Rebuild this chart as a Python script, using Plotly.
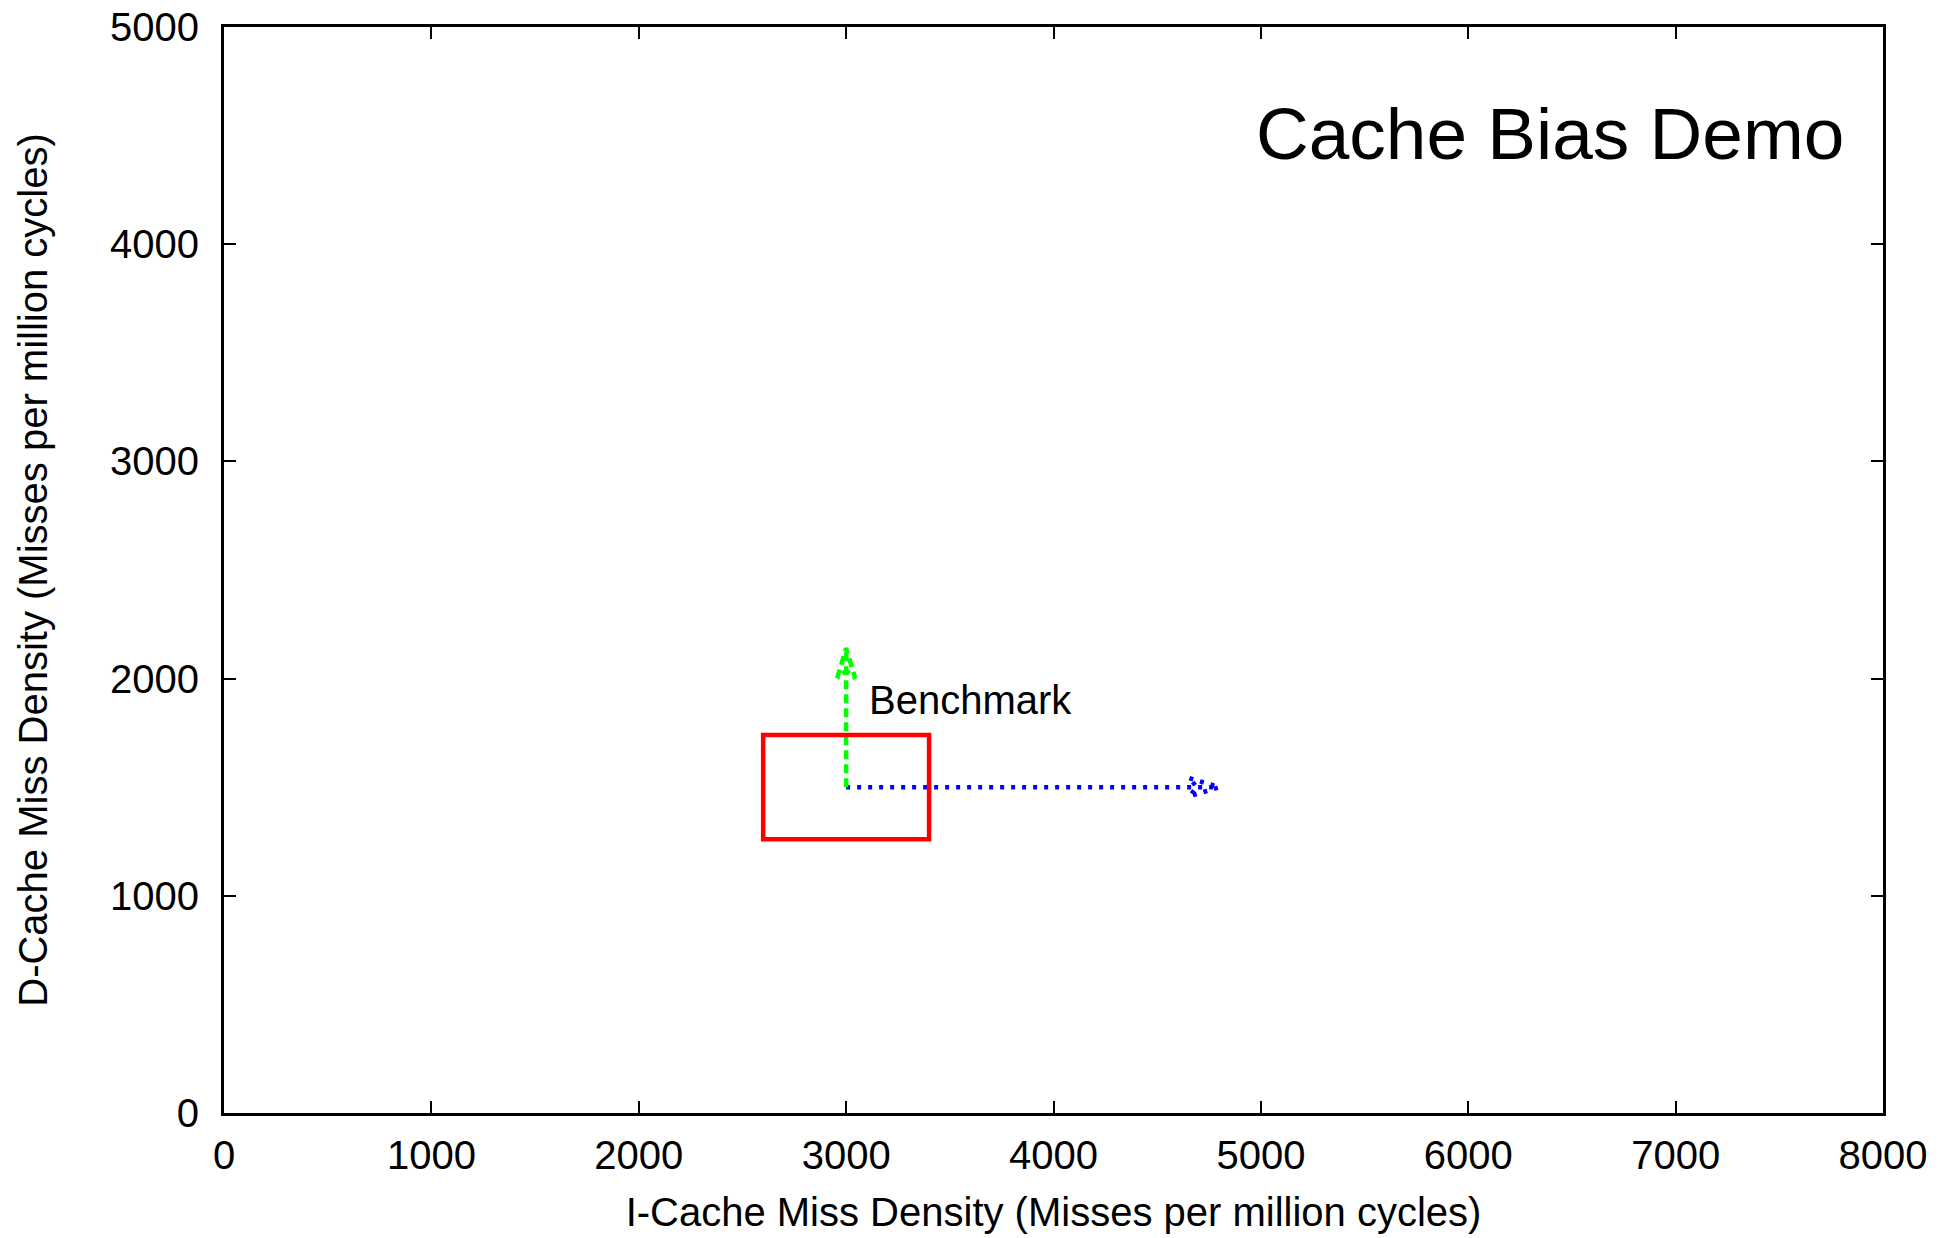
import plotly.graph_objects as go

# Axis ranges and ticks
x_range = [0, 8000]
y_range = [0, 5000]
x_ticks = [0, 1000, 2000, 3000, 4000, 5000, 6000, 7000, 8000]
y_ticks = [0, 1000, 2000, 3000, 4000, 5000]

# Benchmark region (rectangle corners)
region_x = [2600, 3400]
region_y = [1260, 1740]

# Benchmark point and bias vectors
bench_x = 3000
bench_y = 1500
icache_tip_x = 4800   # horizontal (I-cache) vector end
dcache_tip_y = 2140   # vertical (D-cache) vector end

label_text = "Benchmark"
label_pos = [3100, 1900]
title_text = "Cache Bias Demo"
title_pos = [7820, 4510]

W, H = 1956, 1238
M = dict(l=224, r=73, t=27, b=125)
px_x = (W - M["l"] - M["r"]) / (x_range[1] - x_range[0])
px_y = (H - M["t"] - M["b"]) / (y_range[1] - y_range[0])

BLUE = "#0000ff"
GREEN = "#00ff00"
RED = "#ff0000"

fig = go.Figure()


def head(tip_x, tip_y, dx, dy, length_px=30, half_px=9):
    """Arrowhead outline in data units, pointing along (dx, dy)."""
    ux, uy = dx * px_x, dy * px_y
    n = (ux ** 2 + uy ** 2) ** 0.5
    ux, uy = ux / n, uy / n
    bx, by = -ux * length_px, -uy * length_px
    px_, py_ = -uy * half_px, ux * half_px
    pts = [
        (tip_x + (bx + px_) / px_x, tip_y + (by + py_) / px_y),
        (tip_x, tip_y),
        (tip_x + (bx - px_) / px_x, tip_y + (by - py_) / px_y),
        (tip_x + (bx * 0.75) / px_x, tip_y + (by * 0.75) / px_y),
        (tip_x + (bx + px_) / px_x, tip_y + (by + py_) / px_y),
    ]
    return [p[0] for p in pts], [p[1] for p in pts]


# Horizontal I-cache vector (dotted blue)
fig.add_trace(go.Scatter(
    x=[bench_x, icache_tip_x], y=[bench_y, bench_y], mode="lines",
    line=dict(color=BLUE, width=4.5, dash="4px,7px"), hoverinfo="skip"))
hx, hy = head(icache_tip_x, bench_y, 1, 0)
fig.add_trace(go.Scatter(
    x=hx, y=hy, mode="lines",
    line=dict(color=BLUE, width=4.5, dash="4px,7px"), hoverinfo="skip"))

# Vertical D-cache vector (dashed green)
fig.add_trace(go.Scatter(
    x=[bench_x, bench_x], y=[bench_y, dcache_tip_y], mode="lines",
    line=dict(color=GREEN, width=4.5, dash="9px,5px"), hoverinfo="skip"))
hx, hy = head(bench_x, dcache_tip_y, 0, 1)
fig.add_trace(go.Scatter(
    x=hx, y=hy, mode="lines",
    line=dict(color=GREEN, width=4.5, dash="9px,5px"), hoverinfo="skip"))

# Benchmark region rectangle
fig.add_shape(type="rect", xref="x", yref="y",
              x0=region_x[0], x1=region_x[1], y0=region_y[0], y1=region_y[1],
              line=dict(color=RED, width=4.5), fillcolor="rgba(0,0,0,0)")

fig.add_annotation(x=label_pos[0], y=label_pos[1], text=label_text,
                   xref="x", yref="y", showarrow=False,
                   xanchor="left", yanchor="middle",
                   font=dict(family="Liberation Sans, Arial, sans-serif",
                             size=40, color="black"))

fig.add_annotation(x=title_pos[0], y=title_pos[1], text=title_text,
                   xref="x", yref="y", showarrow=False,
                   xanchor="right", yanchor="middle",
                   font=dict(family="Liberation Sans, Arial, sans-serif",
                             size=73, color="black"))

axis_common = dict(
    showgrid=False, zeroline=False, automargin=False,
    showline=True, linecolor="black", linewidth=3, mirror="ticks",
    ticks="inside", ticklen=12, tickwidth=2, tickcolor="black",
    tickfont=dict(family="Liberation Sans, Arial, sans-serif", size=40, color="black"),
)

fig.update_layout(
    width=W, height=H, margin=M,
    paper_bgcolor="white", plot_bgcolor="white",
    showlegend=False,
    font=dict(family="Liberation Sans, Arial, sans-serif", color="black"),
    xaxis=dict(range=x_range, tickvals=x_ticks, ticktext=[str(v) for v in x_ticks],
               ticklabelstandoff=5,
               title=dict(text="I-Cache Miss Density (Misses per million cycles)",
                          font=dict(size=40), standoff=22),
               **axis_common),
    yaxis=dict(range=y_range, tickvals=y_ticks, ticktext=[str(v) for v in y_ticks],
               ticklabelstandoff=14,
               title=dict(text="D-Cache Miss Density (Misses per million cycles)",
                          font=dict(size=40), standoff=51),
               **axis_common),
)

fig.write_html("out.html")
